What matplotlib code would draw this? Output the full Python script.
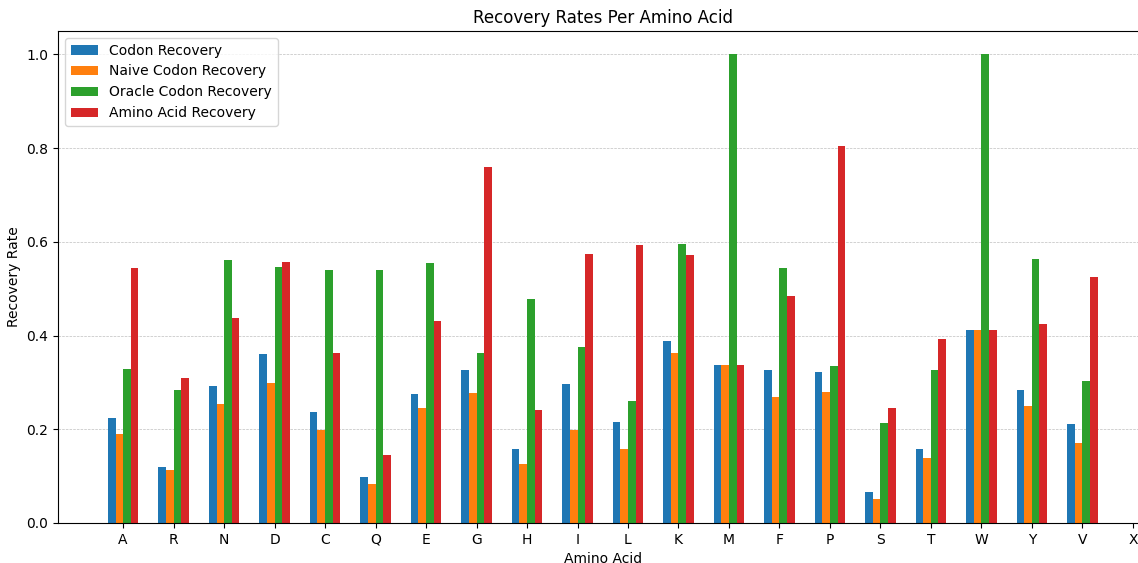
import matplotlib
matplotlib.use("Agg")
from matplotlib import pyplot as plt
import numpy as np

amino_acids = ['A', 'R', 'N', 'D', 'C', 'Q', 'E', 'G', 'H', 'I', 'L',
               'K', 'M', 'F', 'P', 'S', 'T', 'W', 'Y', 'V', 'X']

codon_recovery = [0.225, 0.119, 0.293, 0.360, 0.237, 0.098, 0.276, 0.327, 0.157, 0.296,
                  0.215, 0.389, 0.337, 0.327, 0.322, 0.067, 0.158, 0.412, 0.283, 0.212]
naive_codon_recovery = [0.191, 0.113, 0.254, 0.298, 0.198, 0.083, 0.246, 0.277, 0.125, 0.199,
                        0.158, 0.362, 0.337, 0.268, 0.279, 0.052, 0.139, 0.412, 0.250, 0.170]
oracle_codon_recovery = [0.329, 0.283, 0.562, 0.547, 0.541, 0.541, 0.554, 0.362, 0.479, 0.375,
                         0.260, 0.595, 1.0, 0.545, 0.335, 0.214, 0.327, 1.0, 0.564, 0.304]
amino_acid_recovery = [0.545, 0.310, 0.437, 0.556, 0.362, 0.146, 0.431, 0.760, 0.242, 0.574,
                       0.593, 0.572, 0.337, 0.485, 0.805, 0.246, 0.393, 0.412, 0.425, 0.525]

series = [
    ('Codon Recovery', codon_recovery, '#1f77b4'),
    ('Naive Codon Recovery', naive_codon_recovery, '#ff7f0e'),
    ('Oracle Codon Recovery', oracle_codon_recovery, '#2ca02c'),
    ('Amino Acid Recovery', amino_acid_recovery, '#d62728'),
]

fig = plt.figure(figsize=(11.38, 5.63), dpi=100)
ax = fig.add_axes([58/1138, 40/563, 1090/1138, 492/563])

width = 0.15
x = np.arange(len(codon_recovery))
for i, (label, vals, color) in enumerate(series):
    ax.bar(x + (i - 1.5) * width, vals, width, label=label, color=color)

ax.set_xticks(np.arange(len(amino_acids)))
ax.set_xticklabels(amino_acids)
ax.set_xlim(-1.29, 20.3)
ax.set_ylim(0, 1.05)
ax.set_xlabel('Amino Acid')
ax.set_ylabel('Recovery Rate')
ax.set_title('Recovery Rates Per Amino Acid')
ax.legend(loc='upper left')
ax.yaxis.grid(True, linestyle='--', linewidth=0.5, color='gray', alpha=0.5)
ax.set_axisbelow(True)

fig.savefig('out.png', dpi=100)
